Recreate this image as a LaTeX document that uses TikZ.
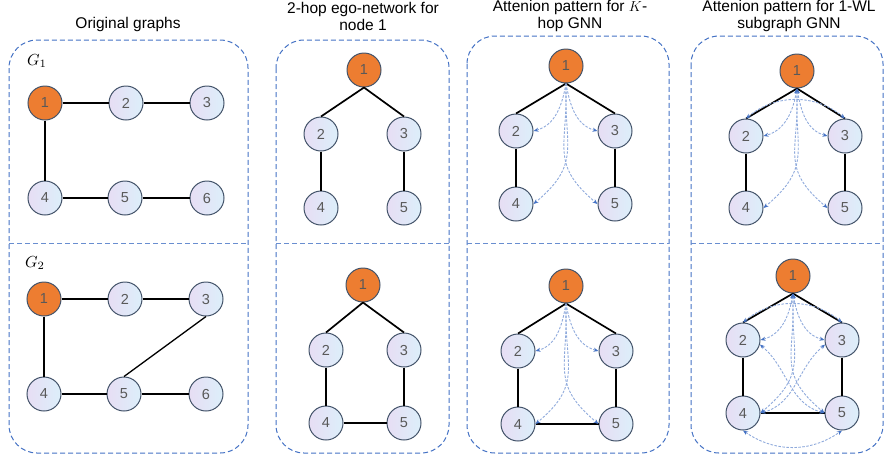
\documentclass[tikz,border=0pt]{standalone}
\usepackage{amsmath}
\usepackage{amssymb}
\usepackage{graphicx}
\usepackage{fontspec}
\setmainfont{Liberation Sans}
\usepackage{tikz}
\usetikzlibrary{arrows.meta}
\definecolor{rootorange}{HTML}{ED7D31}
\definecolor{vlav}{HTML}{E7DEF4}
\definecolor{vsky}{HTML}{DCEFFA}
\definecolor{vrim}{HTML}{44546A}
\definecolor{vnum}{HTML}{595959}
\definecolor{boxblue}{HTML}{4472C4}
\definecolor{attline}{HTML}{8FAADC}
\definecolor{atttip}{HTML}{4472C4}

\begin{document}
\begin{tikzpicture}[x=1pt,y=-1pt]
\tikzstyle{vbase} = [circle,draw=vrim,line width=1pt,inner sep=0pt,minimum size=34pt,
text=vnum,font=\fontsize{14.5}{16}\selectfont]
\tikzstyle{vtx} = [vbase,left color=vlav,right color=vsky]
\tikzstyle{root} = [vbase,fill=rootorange]
\tikzstyle{thin} = [line width=1.3pt]
\tikzstyle{edge} = [line width=1.7pt]
\tikzstyle{att} = [draw=attline,line width=0.9pt,dash pattern=on 2.5pt off 1.5pt,
-{Stealth[length=5pt,width=4pt,color=atttip]}]
\tikzstyle{attb} = [att,{Stealth[length=5pt,width=4pt,color=atttip]}-{Stealth[length=5pt,width=4pt,color=atttip]}]
\tikzstyle{panel} = [draw=boxblue,line width=1pt,dash pattern=on 5pt off 3pt,rounded corners=28pt]
\tikzstyle{split} = [draw=boxblue!80,line width=1pt,dash pattern=on 5pt off 3pt]
\tikzstyle{title} = [align=center,font=\fontsize{15.5}{17}\selectfont]
\useasboundingbox (0,0) rectangle (885,459);

% titles
\node[title] (t1) at (128,24) {Original graphs};
\node[title] (t2) at (363,16) {2-hop ego-network for\\node 1};
\node[title] (t3) at (570,16) {Attenion pattern for $K$-\\hop GNN};
\node[title] (t4) at (789,16) {Attenion pattern for 1-WL\\subgraph GNN};

% dashed frames
\draw[panel] (9,40) rectangle (248,453);
\draw[split] (9,243) -- (248,243);
\draw[panel] (276,40) rectangle (449,453);
\draw[split] (276,243) -- (449,243);
\draw[panel] (467,36) rectangle (669,453);
\draw[split] (467,243) -- (669,243);
\draw[panel] (691,36) rectangle (883,453);
\draw[split] (691,243) -- (883,243);

\node (g1) at (37,61) {\scalebox{1.6}{$G_1$}};
\node (g2) at (35,263) {\scalebox{1.6}{$G_2$}};

% original graph G1
\node[root] (oa1) at (45,103) {1};
\node[vtx] (oa2) at (126,103) {2};
\node[vtx] (oa3) at (207,103) {3};
\node[vtx] (oa4) at (45,198) {4};
\node[vtx] (oa5) at (125,198) {5};
\node[vtx] (oa6) at (207,198) {6};
\draw[thin] (oa1) -- (oa2);
\draw[thin] (oa2) -- (oa3);
\draw[thin] (oa1) -- (oa4);
\draw[thin] (oa4) -- (oa5);
\draw[thin] (oa5) -- (oa6);

% original graph G2
\node[root] (ob1) at (44,299) {1};
\node[vtx] (ob2) at (125,299) {2};
\node[vtx] (ob3) at (206,299) {3};
\node[vtx] (ob4) at (44,394) {4};
\node[vtx] (ob5) at (124,394) {5};
\node[vtx] (ob6) at (206,394) {6};
\draw[thin] (ob1) -- (ob2);
\draw[thin] (ob2) -- (ob3);
\draw[thin] (ob1) -- (ob4);
\draw[thin] (ob4) -- (ob5);
\draw[thin] (ob5) -- (ob6);
\draw[thin] (ob3.south) -- (ob5.north);

% ego-networks
\node[root] (ea1) at (364,70) {1};
\node[vtx] (ea2) at (321,134) {2};
\node[vtx] (ea3) at (404,134) {3};
\node[vtx] (ea4) at (321,208) {4};
\node[vtx] (ea5) at (404,208) {5};
\draw[edge] (ea1.south) -- (ea2.north);
\draw[edge] (ea1.south) -- (ea3.north);
\draw[edge] (ea2) -- (ea4);
\draw[edge] (ea3) -- (ea5);

\node[root] (eb1) at (363,285) {1};
\node[vtx] (eb2) at (326,350) {2};
\node[vtx] (eb3) at (404,350) {3};
\node[vtx] (eb4) at (326,423) {4};
\node[vtx] (eb5) at (404,423) {5};
\draw[edge] (eb1.south) -- (eb2.north);
\draw[edge] (eb1.south) -- (eb3.north);
\draw[edge] (eb2) -- (eb4);
\draw[edge] (eb3) -- (eb5);
\draw[edge] (eb4) -- (eb5);

% K-hop attention
\node[root] (ka1) at (566,66) {1};
\node[vtx] (ka2) at (516,131) {2};
\node[vtx] (ka3) at (615,131) {3};
\node[vtx] (ka4) at (516,204) {4};
\node[vtx] (ka5) at (615,204) {5};
\draw[edge] (ka1.south) -- (ka2.north);
\draw[edge] (ka1.south) -- (ka3.north);
\draw[edge] (ka2) -- (ka4);
\draw[edge] (ka3) -- (ka5);
\draw[att] (ka1.south) to[out=-100,in=15] (ka2.east);
\draw[att] (ka1.south) to[out=-80,in=165] (ka3.west);
\draw[att] (ka1.south) to[out=-92,in=40,looseness=1.3] (ka4.east);
\draw[att] (ka1.south) to[out=-88,in=140,looseness=1.3] (ka5.west);

\node[root] (kb1) at (566,286) {1};
\node[vtx] (kb2) at (518,351) {2};
\node[vtx] (kb3) at (616,351) {3};
\node[vtx] (kb4) at (518,424) {4};
\node[vtx] (kb5) at (616,424) {5};
\draw[edge] (kb1.south) -- (kb2.north);
\draw[edge] (kb1.south) -- (kb3.north);
\draw[edge] (kb2) -- (kb4);
\draw[edge] (kb3) -- (kb5);
\draw[edge] (kb4) -- (kb5);
\draw[att] (kb1.south) to[out=-100,in=15] (kb2.east);
\draw[att] (kb1.south) to[out=-80,in=165] (kb3.west);
\draw[att] (kb1.south) to[out=-92,in=40,looseness=1.3] (kb4.east);
\draw[att] (kb1.south) to[out=-88,in=140,looseness=1.3] (kb5.west);

% 1-WL subgraph attention
\node[root] (wa1) at (797,71) {1};
\node[vtx] (wa2) at (746,136) {2};
\node[vtx] (wa3) at (845,136) {3};
\node[vtx] (wa4) at (746,208) {4};
\node[vtx] (wa5) at (845,208) {5};
\draw[edge] (wa1.south) -- (wa2.north);
\draw[edge] (wa1.south) -- (wa3.north);
\draw[edge] (wa2) -- (wa4);
\draw[edge] (wa3) -- (wa5);
\draw[attb] (wa1.south) to[out=-100,in=15] (wa2.east);
\draw[attb] (wa1.south) to[out=-80,in=165] (wa3.west);
\draw[attb] (wa1.south) to[out=-92,in=40,looseness=1.3] (wa4.east);
\draw[attb] (wa1.south) to[out=-88,in=140,looseness=1.3] (wa5.west);
\draw[attb] (wa2.north) to[out=40,in=140] (wa3.north);

\node[root] (wb1) at (793,276) {1};
\node[vtx] (wb2) at (743,340) {2};
\node[vtx] (wb3) at (842,340) {3};
\node[vtx] (wb4) at (743,413) {4};
\node[vtx] (wb5) at (842,413) {5};
\draw[edge] (wb1.south) -- (wb2.north);
\draw[edge] (wb1.south) -- (wb3.north);
\draw[edge] (wb2) -- (wb4);
\draw[edge] (wb3) -- (wb5);
\draw[edge] (wb4) -- (wb5);
\draw[attb] (wb1.south) to[out=-100,in=15] (wb2.east);
\draw[attb] (wb1.south) to[out=-80,in=165] (wb3.west);
\draw[attb] (wb1.south) to[out=-92,in=40,looseness=1.3] (wb4.east);
\draw[attb] (wb1.south) to[out=-88,in=140,looseness=1.3] (wb5.west);
\draw[attb] (wb2.north) to[out=40,in=140] (wb3.north);
\draw[attb] (wb2.-15) to[out=-40,in=165] (wb5.west);
\draw[attb] (wb3.195) to[out=-140,in=15] (wb4.east);
\draw[attb] (wb4.south) to[out=-35,in=-145] (wb5.south);
\end{tikzpicture}
\end{document}
